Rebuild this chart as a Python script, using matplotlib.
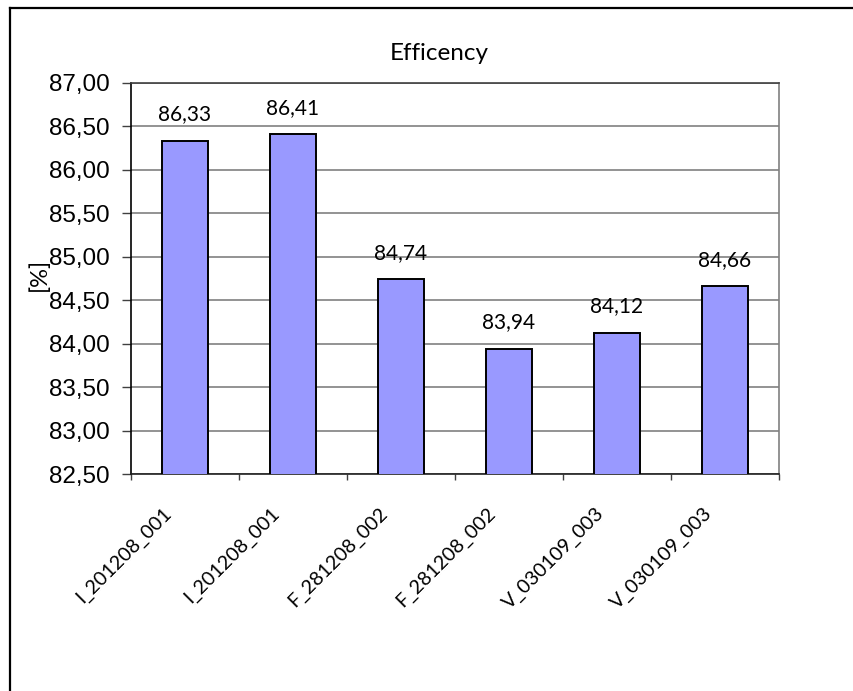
import numpy as np
import matplotlib.pyplot as plt
from matplotlib.lines import Line2D
from matplotlib.ticker import FixedLocator
from matplotlib.transforms import ScaledTranslation

# data
runs = ['I_201208_001', 'I_201208_001', 'F_281208_002', 'F_281208_002',
        'V_030109_003', 'V_030109_003']
efficiency = [86.33, 86.41, 84.74, 83.94, 84.12, 84.66]
y_ticks = [82.5, 83.0, 83.5, 84.0, 84.5, 85.0, 85.5, 86.0, 86.5, 87.0]

W, H = 854, 691
fig = plt.figure(figsize=(W / 100, H / 100), dpi=100)
ax = fig.add_axes([131 / W, 1 - 474 / H, (779 - 131) / W, (474 - 83) / H])

x = np.arange(len(runs))
bars = ax.bar(x, efficiency, width=0.42, color='#9999FF', edgecolor='black',
              linewidth=1.4, zorder=3)

for xi, v in zip(x, efficiency):
    ax.annotate(f'{v:.2f}'.replace('.', ','), (xi, v), xytext=(0, 12),
                textcoords='offset points', ha='center', va='bottom',
                fontsize=15, family='Lato')

ax.set_xlim(-0.5, len(runs) - 0.5)
ax.set_ylim(82.5, 87.0)
ax.set_yticks(y_ticks)
ax.set_yticklabels([f'{t:.2f}'.replace('.', ',') for t in y_ticks],
                   fontsize=17.5, family='Liberation Sans')
ax.tick_params(axis='y', direction='out', length=6.5, width=1, color='#404040', pad=9)

ax.set_xticks(x)
ax.set_xticklabels(runs, rotation=45, ha='right', rotation_mode='anchor',
                   fontsize=14.2, family='Lato')
ax.tick_params(axis='x', which='major', length=0, pad=26)
shift = ScaledTranslation(-22 / 100, 6 / 100, fig.dpi_scale_trans)
for lab in ax.get_xticklabels():
    lab.set_transform(lab.get_transform() + shift)
ax.xaxis.set_minor_locator(FixedLocator(np.arange(-0.5, len(runs), 1.0)))
ax.tick_params(axis='x', which='minor', direction='out', length=4, width=1, color='#404040')

ax.grid(axis='y', color='#808080', linewidth=1.2, zorder=0)
ax.spines['left'].set_color('black')
ax.spines['bottom'].set_color('#202020')
ax.spines['top'].set_color('#404040')
ax.spines['right'].set_color('#808080')
for s in ax.spines.values():
    s.set_linewidth(1.2)

ax.set_title('Efficency', fontsize=17.5, family='Lato', x=0.475, pad=16.5)
ax.set_ylabel('[%]', fontsize=17, family='Lato')
ax.yaxis.set_label_coords(-0.125, 0.51)

# chart frame
fig.add_artist(Line2D([10 / W, 1], [1 - 8 / H, 1 - 8 / H], color='black', lw=1.6,
                      transform=fig.transFigure))
fig.add_artist(Line2D([10 / W, 10 / W], [0, 1 - 8 / H], color='black', lw=1.6,
                      transform=fig.transFigure))

fig.savefig('out.png', dpi=100)
